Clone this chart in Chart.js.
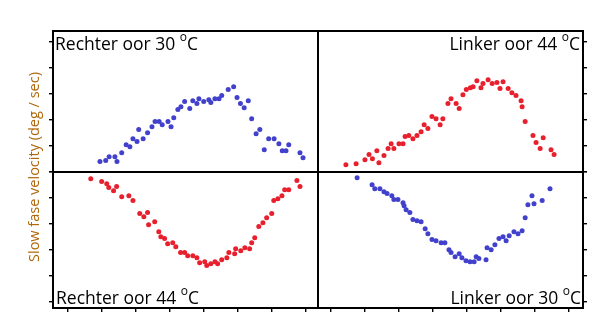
<!DOCTYPE html>
<html><head><meta charset="utf-8">
<script src="https://cdn.jsdelivr.net/npm/chart.js@4"></script>
<style>
html,body{margin:0;padding:0;background:#fff;}
#wrap{position:relative;width:598px;height:336px;overflow:hidden;background:#fff;}
canvas{position:absolute;left:0;top:0;}
.lbl{position:absolute;font-family:"Open Sans",sans-serif;font-size:17.5px;line-height:17px;color:#000;white-space:nowrap;}
.lbl sup{font-size:12px;line-height:0;position:relative;top:-2px;vertical-align:super;}
#ytitle{position:absolute;left:-86px;top:159px;width:240px;height:16px;line-height:16px;text-align:center;
  font-family:"Open Sans",sans-serif;font-size:14.5px;color:#b0670a;transform:rotate(-90deg);white-space:nowrap;}
</style></head>
<body>
<div id="wrap">
<canvas id="c1" width="598" height="336"></canvas>
<canvas id="c2" width="598" height="336"></canvas>
<canvas id="c3" width="598" height="336"></canvas>
<canvas id="c4" width="598" height="336"></canvas>
<div class="lbl" style="left:55px;top:35px;">Rechter oor 30 <sup>o</sup>C</div>
<div class="lbl" style="right:18px;top:35px;">Linker oor 44 <sup>o</sup>C</div>
<div class="lbl" style="left:56px;top:289px;">Rechter oor 44 <sup>o</sup>C</div>
<div class="lbl" style="right:17px;top:289px;">Linker oor 30 <sup>o</sup>C</div>
<div id="ytitle">Slow fase velocity (deg / sec)</div>
</div>
<script>
// ---- data ----
const panelTitles = ["Rechter oor 30 °C", "Linker oor 44 °C", "Rechter oor 44 °C", "Linker oor 30 °C"];
const xTicks = [0, 1, 2, 3, 4, 5, 6, 7];
const yTicksTop = [0, 1, 2, 3, 4, 5];
const yTicksBottom = [-5, -4, -3, -2, -1, 0];

// Rechter oor 30 °C (top-left, blue)
const rechter30X = [0.96,1.13,1.23,1.40,1.46,1.60,1.73,1.84,1.93,2.05,2.10,2.23,2.36,2.49,2.58,2.70,2.79,2.96,3.05,3.13,3.25,3.34,3.45,3.60,3.69,3.81,3.87,4.01,4.16,4.22,4.34,4.46,4.54,4.73,4.89,4.99,5.09,5.20,5.32,5.42,5.55,5.66,5.79,5.92,6.08,6.22,6.32,6.43,6.51,6.84,6.93];
const rechter30Y = [0.40,0.44,0.59,0.59,0.40,0.74,1.05,0.97,1.28,1.17,1.63,1.28,1.51,1.74,1.94,1.94,1.82,1.94,1.74,2.09,2.40,2.51,2.71,2.44,2.74,2.63,2.82,2.71,2.78,2.67,2.82,2.82,2.94,3.17,3.28,2.86,2.63,2.47,2.74,2.05,1.47,1.63,0.86,1.28,1.28,1.09,0.82,0.82,1.05,0.74,0.55];

// Linker oor 44 °C (top-right, red)
const linker44X = [0.44,0.74,1.00,1.12,1.22,1.35,1.41,1.56,1.68,1.77,1.85,2.00,2.12,2.18,2.29,2.41,2.53,2.65,2.74,2.85,2.97,3.09,3.21,3.29,3.44,3.53,3.68,3.77,3.88,3.98,4.10,4.18,4.29,4.41,4.47,4.62,4.74,4.88,4.97,5.06,5.21,5.32,5.44,5.59,5.62,5.71,5.94,6.03,6.15,6.24,6.47,6.56];
const linker44Y = [0.28,0.32,0.47,0.67,0.51,0.82,0.36,0.63,0.90,1.09,0.90,1.09,1.09,1.36,1.40,1.28,1.40,1.55,1.82,1.67,2.13,2.05,1.82,2.05,2.63,2.82,2.63,2.44,2.97,3.17,3.24,3.28,3.51,3.24,3.40,3.55,3.40,3.44,3.21,3.47,3.21,3.05,2.94,2.74,2.51,1.94,1.40,1.13,0.90,1.32,0.86,0.67];

// Rechter oor 44 °C (bottom-left, red)
const rechter44X = [0.69,1.01,1.16,1.22,1.36,1.45,1.60,1.81,1.93,2.13,2.25,2.36,2.39,2.57,2.69,2.75,2.86,2.95,3.10,3.19,3.33,3.45,3.54,3.69,3.81,3.89,4.04,4.10,4.22,4.34,4.42,4.54,4.69,4.75,4.92,4.95,5.10,5.22,5.36,5.42,5.51,5.63,5.75,5.86,6.01,6.07,6.19,6.31,6.39,6.51,6.75,6.84];
const rechter44Y = [-0.26,-0.37,-0.45,-0.60,-0.72,-0.56,-0.95,-0.91,-1.10,-1.60,-1.72,-1.56,-2.03,-1.91,-2.30,-2.49,-2.56,-2.76,-2.72,-2.87,-3.10,-3.10,-3.22,-3.22,-3.30,-3.49,-3.45,-3.60,-3.53,-3.45,-3.53,-3.37,-3.30,-3.10,-3.14,-2.95,-3.03,-2.91,-2.95,-2.72,-2.53,-2.10,-1.95,-1.76,-1.60,-1.10,-1.03,-0.91,-0.68,-0.68,-0.33,-0.56];

// Linker oor 30 °C (bottom-right, blue)
const linker30X = [0.77,1.21,1.29,1.44,1.56,1.65,1.79,1.85,1.97,2.12,2.15,2.21,2.32,2.41,2.53,2.65,2.77,2.85,2.97,3.09,3.24,3.35,3.47,3.53,3.65,3.77,3.85,3.97,4.09,4.21,4.27,4.35,4.56,4.59,4.71,4.82,4.94,5.06,5.15,5.24,5.38,5.50,5.62,5.71,5.79,5.91,5.97,6.21,6.44];
const linker30Y = [-0.22,-0.49,-0.64,-0.64,-0.76,-0.83,-0.91,-1.06,-1.06,-1.18,-1.30,-1.45,-1.56,-1.83,-1.87,-1.91,-2.18,-2.37,-2.60,-2.64,-2.72,-2.72,-2.99,-3.10,-3.26,-3.14,-3.30,-3.41,-3.45,-3.45,-3.26,-3.33,-3.37,-2.91,-2.99,-2.80,-2.56,-2.49,-2.64,-2.45,-2.30,-2.37,-2.26,-1.76,-1.26,-0.91,-1.22,-1.10,-0.64];

const BLUE = '#4141cc';
const RED = '#e8202e';

// ---- charts ----
const framePlugin = {
  id: 'frame',
  afterDraw(chart) {
    const {ctx, chartArea: a} = chart;
    ctx.save();
    ctx.strokeStyle = '#000';
    ctx.lineWidth = 2;
    ctx.strokeRect(a.left, a.top, a.right - a.left, a.bottom - a.top);
    ctx.restore();
  }
};

function axis(show, position, min, max, tickVals) {
  return {
    type: 'linear', display: show, position, min, max,
    afterBuildTicks: s => { s.ticks = tickVals.map(v => ({value: v})); },
    grid: {drawOnChartArea: false, drawTicks: true, tickLength: 4, color: '#000', lineWidth: 1.4},
    border: {display: false},
    ticks: {display: false}
  };
}

function makeChart(id, xs, ys, color, cfg) {
  new Chart(document.getElementById(id), {
    type: 'scatter',
    data: {datasets: [{
      label: cfg.label,
      data: xs.map((x, i) => ({x, y: ys[i]})),
      backgroundColor: color, borderColor: color,
      pointRadius: 2.5, pointBorderWidth: 0, pointStyle: 'circle'
    }]},
    options: {
      responsive: false, animation: false, devicePixelRatio: 1,
      layout: {padding: cfg.padding},
      plugins: {legend: {display: false}, tooltip: {enabled: false}, title: {display: false}},
      scales: {
        x: axis(cfg.showX, 'bottom', cfg.xMin, cfg.xMax, xTicks),
        y: axis(true, cfg.yPos, cfg.yMin, cfg.yMax, cfg.yTicks)
      }
    },
    plugins: [framePlugin]
  });
}

makeChart('c1', rechter30X, rechter30Y, BLUE, {label: panelTitles[0], showX: false, yPos: 'left',
  xMin: -0.42, xMax: 7.37, yMin: 0, yMax: 5.42, yTicks: yTicksTop,
  padding: {left: 49, right: 280, top: 31, bottom: 164}});
makeChart('c2', linker44X, linker44Y, RED, {label: panelTitles[1], showX: false, yPos: 'right',
  xMin: -0.38, xMax: 7.41, yMin: 0, yMax: 5.42, yTicks: yTicksTop,
  padding: {left: 318, right: 11, top: 31, bottom: 164}});
makeChart('c3', rechter44X, rechter44Y, RED, {label: panelTitles[2], showX: true, yPos: 'left',
  xMin: -0.42, xMax: 7.37, yMin: -5.23, yMax: 0, yTicks: yTicksBottom,
  padding: {left: 49, right: 280, top: 172, bottom: 24}});
makeChart('c4', linker30X, linker30Y, BLUE, {label: panelTitles[3], showX: true, yPos: 'right',
  xMin: -0.38, xMax: 7.41, yMin: -5.23, yMax: 0, yTicks: yTicksBottom,
  padding: {left: 318, right: 11, top: 172, bottom: 24}});
</script>
</body></html>
